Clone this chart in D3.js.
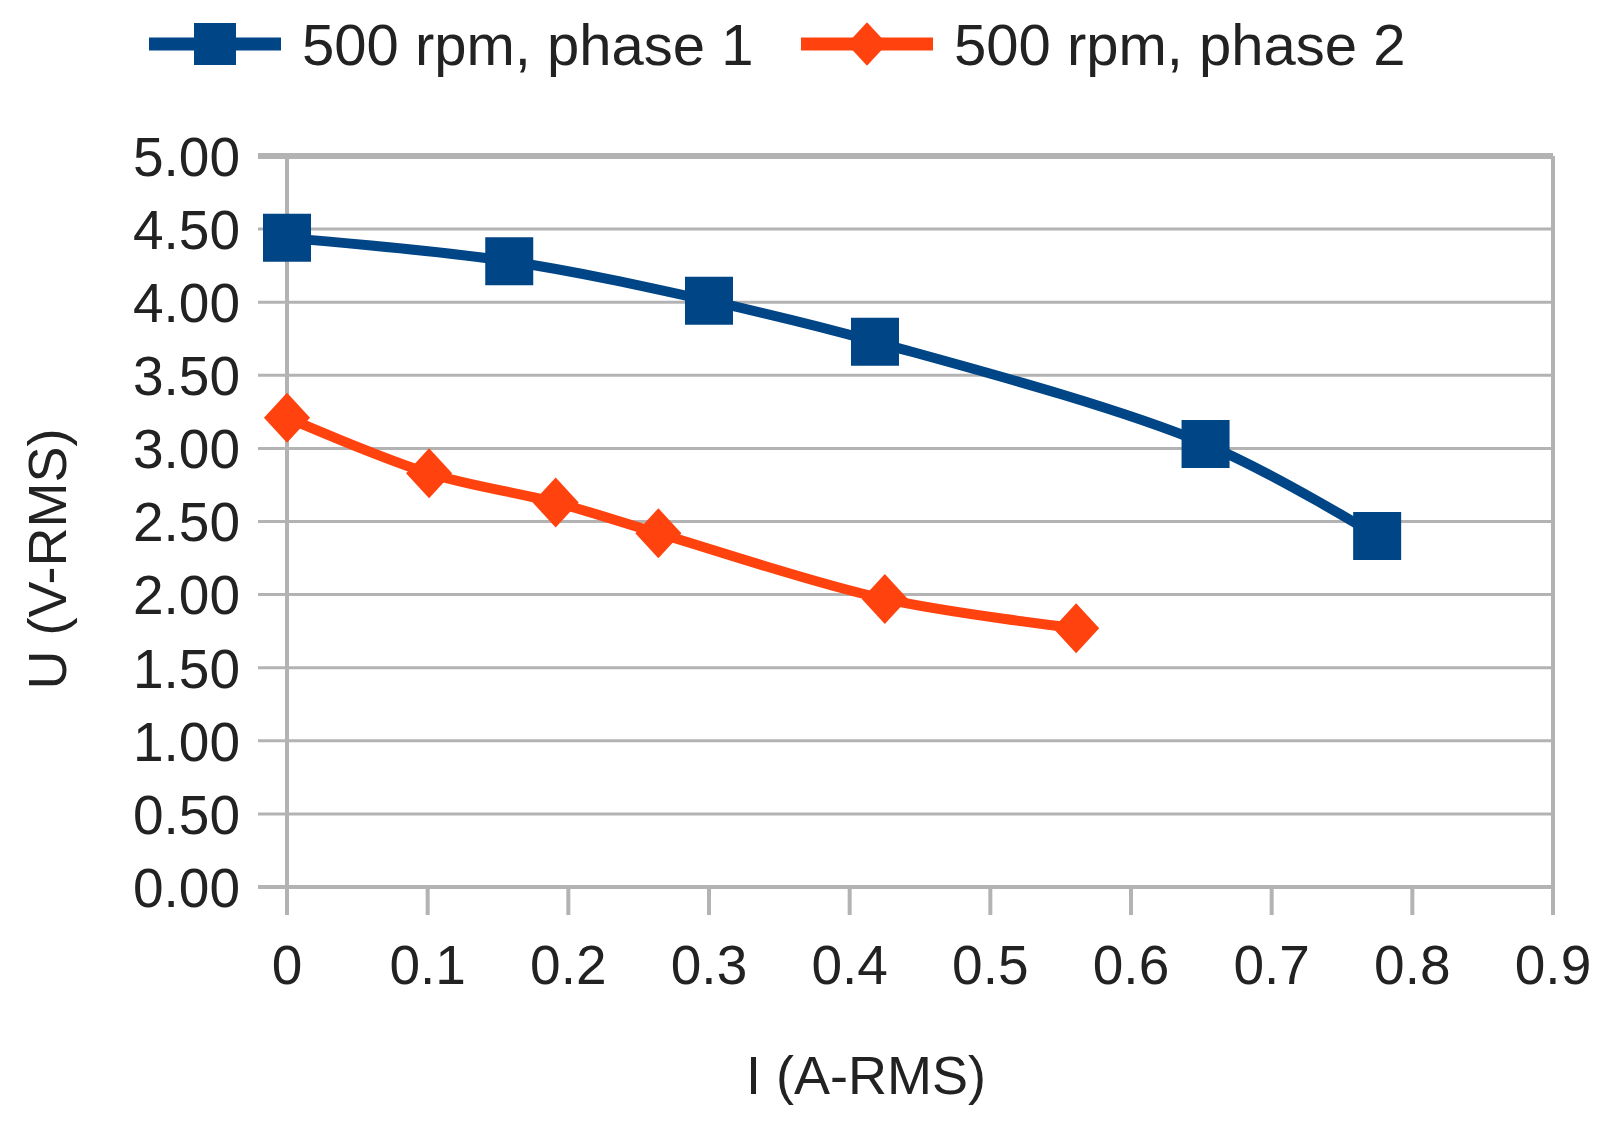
<!DOCTYPE html>
<html>
<head>
<meta charset="utf-8">
<script src="https://cdn.jsdelivr.net/npm/d3@7"></script>
<style>
  body { margin: 0; background: #fff; }
  text { font-family: "Liberation Sans", Arial, sans-serif; fill: #222; }
</style>
</head>
<body>
<div id="chart"></div>
<script>
const width = 1622;
const height = 1124;

// data
const phase1I = [0.0, 0.158, 0.300, 0.418, 0.653, 0.775];
const phase1U = [4.44, 4.28, 4.01, 3.73, 3.03, 2.40];
const phase2I = [0.0, 0.101, 0.191, 0.264, 0.425, 0.561];
const phase2U = [3.21, 2.83, 2.63, 2.42, 1.97, 1.77];
const seriesNames = ["500 rpm, phase 1", "500 rpm, phase 2"];
const seriesColors = ["#004586", "#ff420e"];
const xTicks = [0, 0.1, 0.2, 0.3, 0.4, 0.5, 0.6, 0.7, 0.8, 0.9];
const yTicks = [0, 0.5, 1, 1.5, 2, 2.5, 3, 3.5, 4, 4.5, 5];

const margin = { left: 287, right: 1622 - 1553, top: 156, bottom: 1124 - 887 };

const svg = d3.select("#chart")
    .append("svg")
    .attr("width", width)
    .attr("height", height);

const x = d3.scaleLinear().domain([0, 0.9]).range([margin.left, width - margin.right]);
const y = d3.scaleLinear().domain([0, 5]).range([height - margin.bottom, margin.top]);

const grey = "#b3b3b3";

// horizontal gridlines + left ticks
svg.append("g")
    .selectAll("line")
    .data(yTicks)
    .enter()
    .append("line")
    .attr("x1", x(0) - 29)
    .attr("x2", x(0.9))
    .attr("y1", d => y(d))
    .attr("y2", d => y(d))
    .attr("stroke", grey)
    .attr("stroke-width", d => d === 0 ? 4 : (d === 5 ? 6 : 3));

// x ticks
svg.append("g")
    .selectAll("line")
    .data(xTicks)
    .enter()
    .append("line")
    .attr("x1", d => x(d))
    .attr("x2", d => x(d))
    .attr("y1", d => (d === 0 || d === 0.9) ? y(5) : y(0))
    .attr("y2", y(0) + 28)
    .attr("stroke", grey)
    .attr("stroke-width", 4);

// y labels
svg.append("g")
    .selectAll("text")
    .data(yTicks)
    .enter()
    .append("text")
    .attr("x", 240)
    .attr("y", d => y(d))
    .attr("dy", "0.36em")
    .attr("text-anchor", "end")
    .attr("font-size", "55px")
    .text(d => d3.format(".2f")(d));

// x labels
svg.append("g")
    .selectAll("text")
    .data(xTicks)
    .enter()
    .append("text")
    .attr("x", d => x(d))
    .attr("y", 984)
    .attr("text-anchor", "middle")
    .attr("font-size", "55px")
    .text(d => d === 0 ? "0" : d3.format(".1f")(d));

// axis titles
svg.append("text")
    .attr("x", 866)
    .attr("y", 1094)
    .attr("text-anchor", "middle")
    .attr("font-size", "54px")
    .text("I (A-RMS)");

svg.append("text")
    .attr("transform", "translate(66,559) rotate(-90)")
    .attr("text-anchor", "middle")
    .attr("font-size", "54px")
    .text("U (V-RMS)");

// series
const series = [
    { name: seriesNames[0], color: seriesColors[0], shape: d3.symbolSquare, pts: phase1I.map((v, i) => [v, phase1U[i]]) },
    { name: seriesNames[1], color: seriesColors[1], shape: d3.symbolDiamond, pts: phase2I.map((v, i) => [v, phase2U[i]]) }
];

const line = d3.line()
    .x(d => x(d[0]))
    .y(d => y(d[1]))
    .curve(d3.curveCatmullRom.alpha(0.5));

function marker(s, size) {
    if (s.shape === d3.symbolSquare) return d3.symbol().type(d3.symbolSquare).size(size * size)();
    const w = size * 0.48, h = size * 0.52;
    return `M0,${-h}L${w},0L0,${h}L${-w},0Z`;
}

series.forEach(s => {
    svg.append("path")
        .attr("d", line(s.pts))
        .attr("fill", "none")
        .attr("stroke", s.color)
        .attr("stroke-width", 10)
        .attr("stroke-linejoin", "round");

    svg.append("g")
        .selectAll("path")
        .data(s.pts)
        .enter()
        .append("path")
        .attr("transform", d => `translate(${x(d[0])},${y(d[1])})`)
        .attr("d", marker(s, 48))
        .attr("fill", s.color);
});

// legend
const legendX = [149, 801];
series.forEach((s, i) => {
    const g = svg.append("g").attr("transform", `translate(${legendX[i]},44)`);
    g.append("line")
        .attr("x1", 0).attr("x2", 132)
        .attr("y1", 0).attr("y2", 0)
        .attr("stroke", s.color)
        .attr("stroke-width", 13);
    g.append("path")
        .attr("transform", "translate(66,0)")
        .attr("d", marker(s, 42))
        .attr("fill", s.color);
    g.append("text")
        .attr("x", 153)
        .attr("y", 0)
        .attr("dy", "0.36em")
        .attr("font-size", "58px")
        .text(s.name);
});
</script>
</body>
</html>
